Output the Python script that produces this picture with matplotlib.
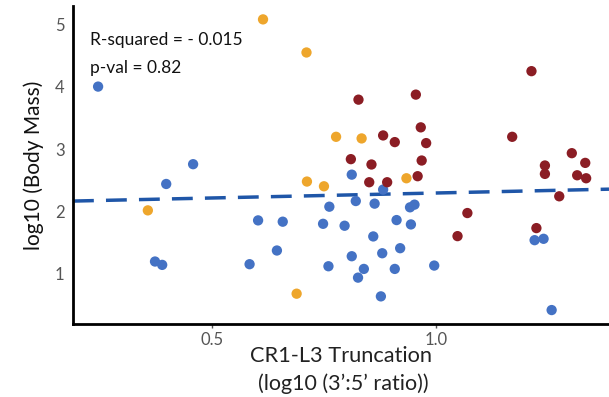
import matplotlib
matplotlib.use("Agg")
import matplotlib.pyplot as plt
import numpy as np

plt.rcParams['font.family'] = ['Lato', 'DejaVu Sans']

# Blue group
blue_x = [0.246, 0.458, 0.398, 0.812, 0.882, 0.821, 0.863, 0.762, 0.942, 0.952,
          0.796, 0.912, 0.944, 1.220, 1.240, 0.860, 0.812, 0.880, 0.920, 0.839,
          0.826, 0.908, 0.996, 0.760, 0.877, 1.258, 0.373, 0.389, 0.584, 0.603,
          0.658, 0.645, 0.748]
blue_y = [4.005, 2.758, 2.440, 2.590, 2.350, 2.166, 2.124, 2.075, 2.065, 2.108,
          1.769, 1.860, 1.790, 1.537, 1.559, 1.597, 1.279, 1.327, 1.408, 1.075,
          0.935, 1.075, 1.129, 1.118, 0.634, 0.414, 1.194, 1.140, 1.151, 1.855,
          1.834, 1.371, 1.800]

# Orange group
orange_x = [0.614, 0.711, 0.777, 0.712, 0.750, 0.834, 0.934, 0.357, 0.689]
orange_y = [5.085, 4.553, 3.198, 2.479, 2.403, 3.172, 2.532, 2.016, 0.677]

# Dark red group
red_x = [0.827, 0.955, 1.213, 0.966, 0.882, 0.908, 0.978, 1.170, 0.810, 0.856,
         0.968, 1.303, 1.333, 1.243, 1.243, 1.315, 1.335, 0.851, 0.891, 0.959,
         1.275, 1.070, 1.048, 1.224]
red_y = [3.795, 3.876, 4.253, 3.350, 3.220, 3.113, 3.097, 3.198, 2.839, 2.753,
         2.817, 2.935, 2.779, 2.737, 2.602, 2.580, 2.532, 2.468, 2.468, 2.565,
         2.242, 1.973, 1.602, 1.731]

# Regression line (intercept, slope)
fit_intercept = 2.135
fit_slope = 0.16

x_ticks = [0.5, 1.0]
x_ticklabels = ["0.5", "1.0"]
y_ticks = [1, 2, 3, 4, 5]

fig = plt.figure(figsize=(6.09, 3.97), dpi=100)
ax = fig.add_axes([73/609, 1 - 324/397, (609 - 73)/609, (324 - 6)/397])

xmin, xmax = 0.190, 1.386
ymin, ymax = 0.19, 5.3

s = 55
ax.scatter(blue_x, blue_y, s=s, color='#4472C4', edgecolors='none', zorder=3)
ax.scatter(orange_x, orange_y, s=s, color='#EEA62C', edgecolors='none', zorder=3)
ax.scatter(red_x, red_y, s=s, color='#8B1D24', edgecolors='none', zorder=3)

lx = np.array([xmin, xmax])
ax.plot(lx, fit_intercept + fit_slope * lx, color='#1F56A8', lw=2.5,
        dashes=(6, 3.5), zorder=2)

ax.set_xlim(xmin, xmax)
ax.set_ylim(ymin, ymax)
ax.set_xticks(x_ticks)
ax.set_xticklabels(x_ticklabels)
ax.set_yticks(y_ticks)

for side in ['top', 'right']:
    ax.spines[side].set_visible(False)
for side in ['left', 'bottom']:
    ax.spines[side].set_linewidth(2)
    ax.spines[side].set_color('black')

ax.tick_params(axis='x', length=3, width=1, colors='#555555', labelsize=12, pad=3)
ax.tick_params(axis='y', length=0, colors='#555555', labelsize=12, pad=6)

ax.set_ylabel("log10 (Body Mass)", fontsize=15, color='#111111', labelpad=8)

fig.text(341/609, 1 - 356/397, "CR1-L3 Truncation", fontsize=15.7,
         color='#222222', ha='center', va='center')
fig.text(343/609, 1 - 384/397, "(log10 (3\u2019:5\u2019 ratio))", fontsize=15.5,
         color='#222222', ha='center', va='center')

ax.text(0.032, 0.893, "R-squared = - 0.015", transform=ax.transAxes, fontsize=12.5,
        color='#111111', va='center')
ax.text(0.032, 0.805, "p-val = 0.82", transform=ax.transAxes, fontsize=12.5,
        color='#111111', va='center')

fig.savefig("out.png", dpi=100)
